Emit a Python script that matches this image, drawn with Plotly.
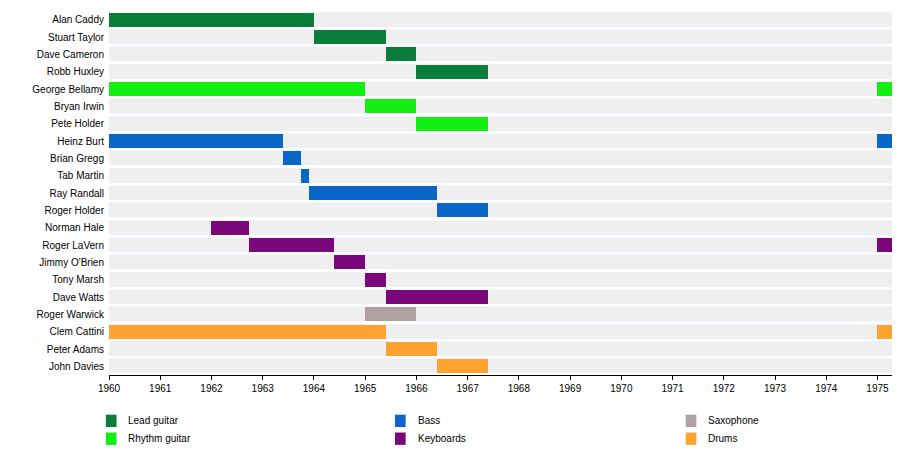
import plotly.graph_objects as go

members = ["Alan Caddy", "Stuart Taylor", "Dave Cameron", "Robb Huxley", "George Bellamy",
           "Bryan Irwin", "Pete Holder", "Heinz Burt", "Brian Gregg", "Tab Martin",
           "Ray Randall", "Roger Holder", "Norman Hale", "Roger LaVern", "Jimmy O'Brien",
           "Tony Marsh", "Dave Watts", "Roger Warwick", "Clem Cattini", "Peter Adams", "John Davies"]

# one entry per bar segment
seg_member = ["Alan Caddy", "Stuart Taylor", "Dave Cameron", "Robb Huxley",
              "George Bellamy", "George Bellamy", "Bryan Irwin", "Pete Holder",
              "Heinz Burt", "Heinz Burt", "Brian Gregg", "Tab Martin", "Ray Randall", "Roger Holder",
              "Norman Hale", "Roger LaVern", "Roger LaVern", "Jimmy O'Brien", "Tony Marsh", "Dave Watts",
              "Roger Warwick", "Clem Cattini", "Clem Cattini", "Peter Adams", "John Davies"]
seg_start = [1960, 1964, 1965.4, 1966, 1960, 1975, 1965, 1966,
             1960, 1975, 1963.4, 1963.75, 1963.9, 1966.4,
             1962, 1962.73, 1975, 1964.4, 1965, 1965.4,
             1965, 1960, 1975, 1965.4, 1966.4]
seg_end = [1964, 1965.4, 1966, 1967.4, 1965, 1975.42, 1966, 1967.4,
           1963.4, 1975.42, 1963.75, 1963.9, 1966.4, 1967.4,
           1962.73, 1964.4, 1975.42, 1965, 1965.4, 1967.4,
           1966, 1965.4, 1975.42, 1966.4, 1967.4]
seg_role = ["Lead guitar"] * 4 + ["Rhythm guitar"] * 4 + ["Bass"] * 6 + ["Keyboards"] * 6 + \
           ["Saxophone"] + ["Drums"] * 4

roles = ["Lead guitar", "Rhythm guitar", "Bass", "Keyboards", "Saxophone", "Drums"]
colors = {"Lead guitar": "#0a7d3a", "Rhythm guitar": "#13ee13", "Bass": "#0a66c8",
          "Keyboards": "#7a087a", "Saxophone": "#b0a0a3", "Drums": "#ffa230"}

x0, x1 = 1960, 1975.42
fig = go.Figure()
fig.add_trace(go.Bar(y=members, x=[x1 - x0] * len(members), base=[x0] * len(members),
                     orientation="h", marker_color="#efefef", width=0.8, showlegend=False,
                     hoverinfo="skip"))
for role in roles:
    idx = [i for i, r in enumerate(seg_role) if r == role]
    fig.add_trace(go.Bar(y=[seg_member[i] for i in idx],
                         x=[seg_end[i] - seg_start[i] for i in idx],
                         base=[seg_start[i] for i in idx],
                         orientation="h", marker_color=colors[role], marker_line_width=0,
                         width=0.8, name=role, showlegend=False))

fig.update_layout(
    barmode="overlay", width=900, height=464, plot_bgcolor="white", paper_bgcolor="white",
    margin=dict(l=101, r=9, t=3, b=97),
    font=dict(family="Liberation Sans, Arial", size=10, color="black"),
    bargap=0,
)
fig.update_xaxes(range=[x0, x1], tickmode="array", tickvals=list(range(1960, 1976)),
                 ticktext=[str(y) for y in range(1960, 1976)], showgrid=False,
                 showline=True, linecolor="black", ticks="outside", ticklen=4, tickcolor="black",
                 zeroline=False, automargin=False)
fig.update_yaxes(categoryorder="array", categoryarray=members, autorange="reversed",
                 showgrid=False, ticks="", ticklabelstandoff=4, automargin=False)

# legend drawn beneath the plot
leg_x = [-0.004, -0.004, 0.362, 0.362, 0.730, 0.730]
leg_y = [-0.126, -0.175, -0.126, -0.175, -0.126, -0.175]
for role, lx, ly in zip(roles, leg_x, leg_y):
    fig.add_shape(type="rect", xref="paper", yref="paper", x0=lx, x1=lx + 0.0135,
                  y0=ly - 0.017, y1=ly + 0.017, fillcolor=colors[role], line_width=0)
    fig.add_annotation(xref="paper", yref="paper", x=lx + 0.026, y=ly, text=role,
                       showarrow=False, xanchor="left", yanchor="middle", font=dict(size=10))

fig.write_html("out.html")
